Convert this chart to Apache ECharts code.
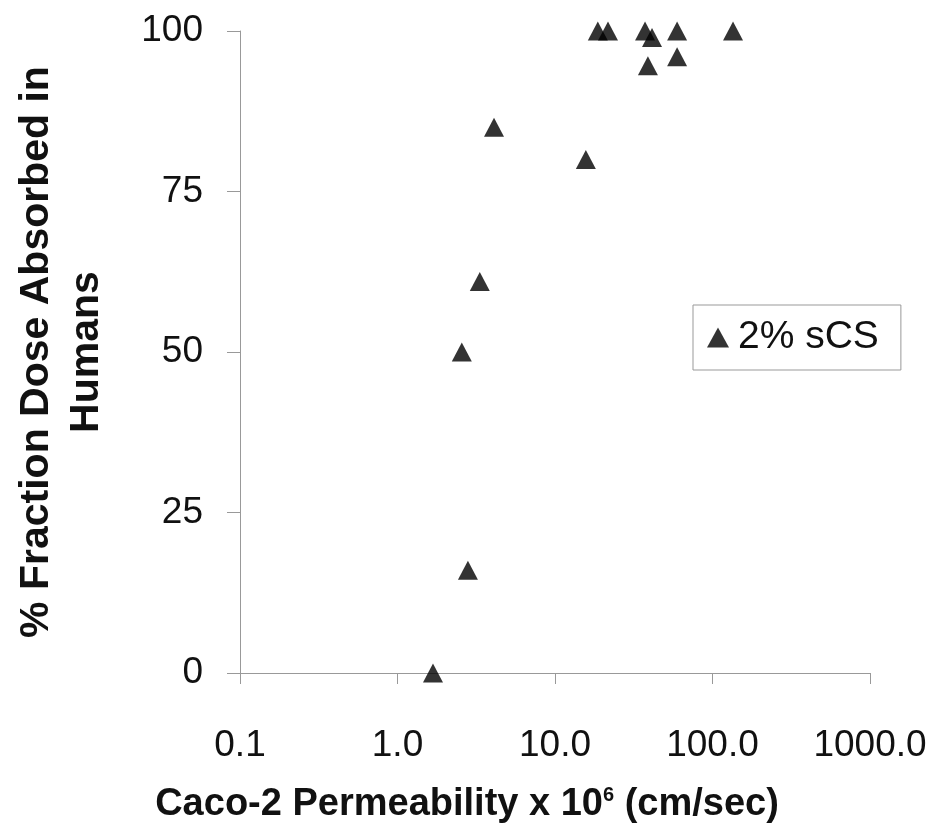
<!DOCTYPE html>
<html>
<head>
<meta charset="utf-8">
<script src="https://cdn.jsdelivr.net/npm/echarts@6/dist/echarts.min.js"></script>
<style>
  html, body { margin: 0; padding: 0; background: #fff; }
  #chart { width: 938px; height: 835px; }
</style>
</head>
<body>
<div id="chart"></div>
<script>
// Caco-2 permeability (x 10^6 cm/sec) vs % absorbed in humans
var permeability = [1.68, 2.8, 2.56, 3.33, 4.1, 15.7, 18.7, 21.7, 37.3, 41.3, 38.9, 59.6, 59.6, 135];
var absorbed     = [0,    16,  50,   61,   85,  80,   100,  100,  100,  99,   94.6, 100,  96,   100];
var yTicks = [0, 25, 50, 75, 100];
var seriesName = '2% sCS';

var points = permeability.map(function (p, i) { return [p, absorbed[i]]; });

var chart = echarts.init(document.getElementById('chart'));

var font = '"Liberation Sans", Arial, sans-serif';
var axisGray = '#999';

var option = {
  backgroundColor: '#fff',
  animation: false,
  textStyle: { fontFamily: font },
  grid: { left: 240, right: 68, top: 31, bottom: 162, containLabel: false, outerBoundsMode: 'none' },
  legend: {
    left: 693,
    top: 305,
    orient: 'vertical',
    padding: [13, 22, 13, 14],
    borderColor: '#999',
    borderWidth: 1,
    itemWidth: 22,
    itemHeight: 20,
    itemGap: 0,
    textStyle: { fontSize: 39, color: '#111', fontFamily: font, padding: [0, 0, 0, 4] },
    data: [{ name: seriesName, icon: 'triangle' }]
  },
  xAxis: {
    type: 'log',
    logBase: 10,
    min: 0.1,
    max: 1000,
    splitLine: { show: false },
    axisLine: { lineStyle: { color: axisGray, width: 1 } },
    axisTick: { inside: false, length: 11, lineStyle: { color: axisGray } },
    minorTick: { show: false },
    axisLabel: {
      margin: 54,
      fontSize: 37,
      color: '#111',
      formatter: function (v) {
        var r = Math.round(v * 10) / 10;
        return r.toFixed(1);
      }
    },
    name: '{t|Caco-2 Permeability x 10}{s|6}{t| (cm/sec)}',
    nameLocation: 'middle',
    nameGap: 112,
    nameTextStyle: {
      padding: [0, 176, 0, 0],
      rich: {
        t: { fontSize: 38, fontWeight: 'bold', color: '#111', fontFamily: font },
        s: { fontSize: 20, fontWeight: 'bold', color: '#111', fontFamily: font, verticalAlign: 'top', padding: [0, 0, 20, 0] }
      }
    }
  },
  yAxis: {
    type: 'value',
    min: 0,
    max: 100,
    interval: 25,
    splitLine: { show: false },
    axisLine: { show: true, lineStyle: { color: axisGray, width: 1 } },
    axisTick: { show: true, length: 13, lineStyle: { color: axisGray } },
    axisLabel: {
      margin: 37,
      fontSize: 37,
      color: '#111',
      formatter: function (v) { return yTicks.indexOf(v) >= 0 ? String(v) : ''; }
    },
    name: '% Fraction Dose Absorbed in\nHumans',
    nameLocation: 'middle',
    nameGap: 128,
    nameRotate: 90,
    nameTextStyle: { fontSize: 41, fontWeight: 'bold', color: '#111', lineHeight: 50 }
  },
  series: [{
    name: seriesName,
    type: 'scatter',
    symbol: 'triangle',
    symbolSize: [20, 19],
    itemStyle: { color: '#000' },
    data: points
  }]
};

chart.setOption(option);
</script>
</body>
</html>
